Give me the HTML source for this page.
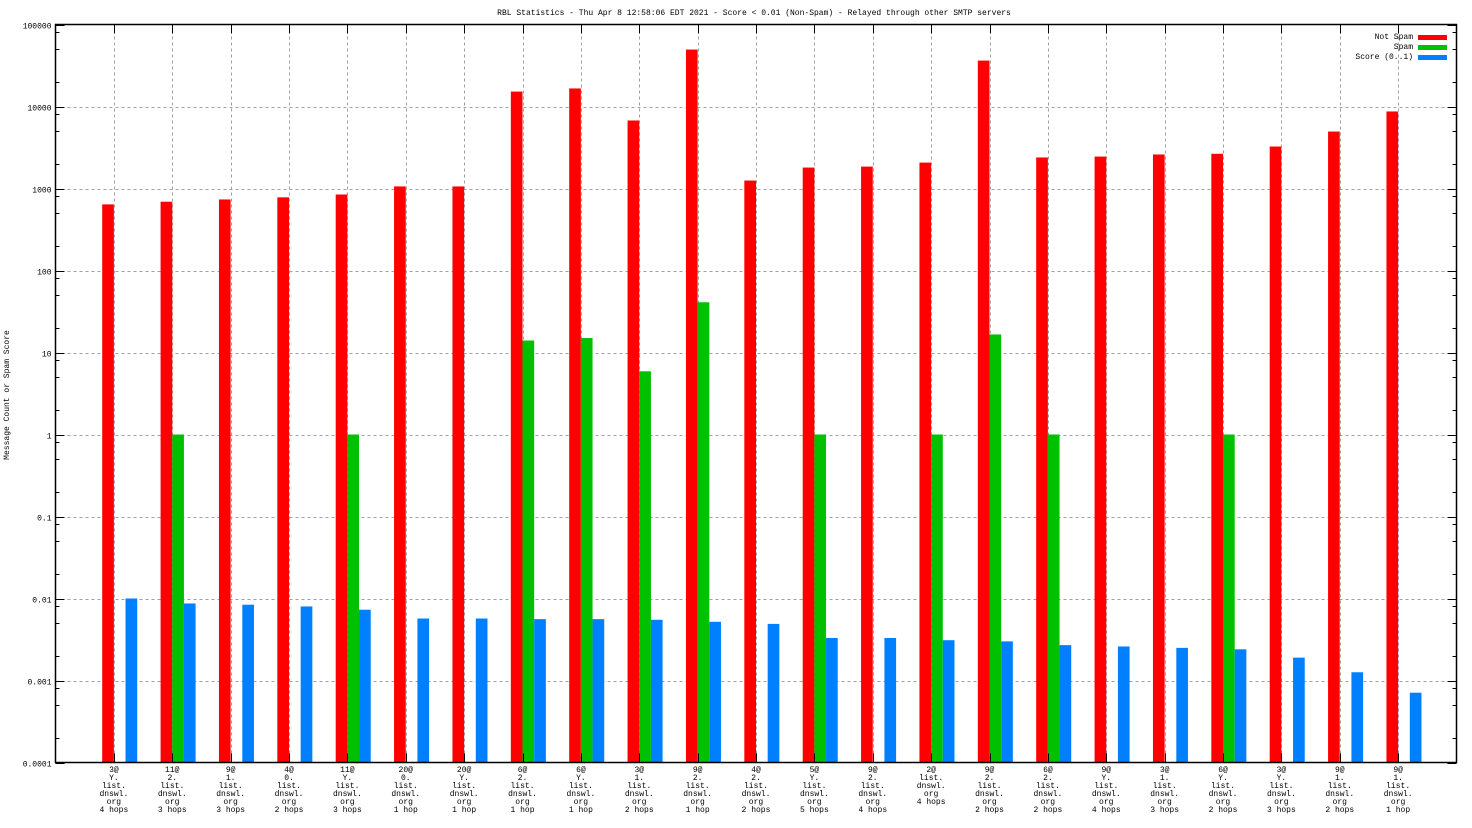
<!DOCTYPE html>
<html><head><meta charset="utf-8"><style>
html,body{margin:0;padding:0;background:#fff}
svg{display:block}
text{font-family:"Liberation Mono","DejaVu Sans Mono",monospace;font-size:8px;fill:#000}
</style></head><body>
<svg id="chart" width="1472" height="828" xmlns="http://www.w3.org/2000/svg">
<text x="754" y="15" text-anchor="middle">RBL Statistics - Thu Apr  8 12:58:06 EDT 2021 - Score &lt; 0.01 (Non-Spam) - Relayed through other SMTP servers</text>
<text transform="translate(9,395) rotate(-90)" text-anchor="middle">Message Count or Spam Score</text>
<g id="grid"></g><g id="bars"></g><g id="axes"></g><g id="labels"></g>
<g>
<text x="1413" y="39" text-anchor="end">Not Spam</text><rect x="1418" y="35" width="29" height="5" fill="#ff0000"/>
<text x="1413" y="49" text-anchor="end">Spam</text><rect x="1418" y="45" width="29" height="5" fill="#00c000"/>
<text x="1413" y="59" text-anchor="end">Score (0..1)</text><rect x="1418" y="55" width="29" height="5" fill="#0080ff"/>
</g>
</svg>
<script>
const categories=[["3@","Y.","list.","dnswl.","org","4 hops"],["11@","2.","list.","dnswl.","org","3 hops"],["9@","1.","list.","dnswl.","org","3 hops"],["4@","0.","list.","dnswl.","org","2 hops"],["11@","Y.","list.","dnswl.","org","3 hops"],["20@","0.","list.","dnswl.","org","1 hop"],["20@","Y.","list.","dnswl.","org","1 hop"],["6@","2.","list.","dnswl.","org","1 hop"],["6@","Y.","list.","dnswl.","org","1 hop"],["3@","1.","list.","dnswl.","org","2 hops"],["9@","2.","list.","dnswl.","org","1 hop"],["4@","2.","list.","dnswl.","org","2 hops"],["5@","Y.","list.","dnswl.","org","5 hops"],["9@","2.","list.","dnswl.","org","4 hops"],["2@","list.","dnswl.","org","4 hops"],["9@","2.","list.","dnswl.","org","2 hops"],["6@","2.","list.","dnswl.","org","2 hops"],["9@","Y.","list.","dnswl.","org","4 hops"],["3@","1.","list.","dnswl.","org","3 hops"],["6@","Y.","list.","dnswl.","org","2 hops"],["3@","Y.","list.","dnswl.","org","3 hops"],["9@","1.","list.","dnswl.","org","2 hops"],["9@","1.","list.","dnswl.","org","1 hop"]];
const notSpam=[640,690,735,780,845,1060,1060,15200,16600,6750,49500,1250,1800,1850,2070,36300,2390,2450,2600,2650,3250,4950,8700];
const spam=[0,1,0,0,1,0,0,14,15,5.9,41,0,1,0,1,16.6,1,0,0,1,0,0,0];
const score=[0.01,0.0087,0.0084,0.008,0.0073,0.0057,0.0057,0.0056,0.0056,0.0055,0.0052,0.0049,0.0033,0.0033,0.0031,0.003,0.0027,0.0026,0.0025,0.0024,0.0019,0.00126,0.00071];
const yTicks=["0.0001","0.001","0.01","0.1","1","10","100","1000","10000","100000"];
const NS="http://www.w3.org/2000/svg";
const L=55.5,R=1456.5,T=24.5,B=762.5;
const step=(R-L)/24;
function xPos(i){return L+step*(i+1);}
function yPos(v){return T+(5-Math.log10(v))*(B-T)/9;}
function mk(tag,attrs,parent){const e=document.createElementNS(NS,tag);for(const k in attrs)e.setAttribute(k,attrs[k]);parent.appendChild(e);return e;}
const grid=document.getElementById('grid'),bars=document.getElementById('bars'),axes=document.getElementById('axes'),labels=document.getElementById('labels');
// y grid & ticks
yTicks.forEach((t,k)=>{
  const v=parseFloat(t),y=Math.round(yPos(v))+0.5;
  if(k>0&&k<yTicks.length-1){const g=mk('line',{x1:L,x2:R,y1:y,y2:y,stroke:'#a0a0a0','stroke-dasharray':'3,3'},grid);
  
  }
  mk('line',{x1:L,x2:L+9,y1:y,y2:y,stroke:'#000'},axes);
  mk('line',{x1:R,x2:R-9,y1:y,y2:y,stroke:'#000'},axes);
  const tx=mk('text',{x:L-4,y:y+3,'text-anchor':'end'},labels);tx.textContent=t;
  
  
  if(k<yTicks.length-1){[2,5,8].forEach(m=>{const yy=Math.round(yPos(v*m))+0.5;
    mk('line',{x1:L,x2:L+4,y1:yy,y2:yy,stroke:'#000'},axes);
    mk('line',{x1:R,x2:R-4,y1:yy,y2:yy,stroke:'#000'},axes);});}
});
const w=step/5;
categories.forEach((c,i)=>{
  const cx=Math.round(xPos(i))+0.5;
  const g=mk('line',{x1:cx,x2:cx,y1:T,y2:B,stroke:'#a0a0a0','stroke-dasharray':'3,3'},grid);
  
  
  mk('line',{x1:cx,x2:cx,y1:T,y2:T+9,stroke:'#000'},axes);
  mk('line',{x1:cx,x2:cx,y1:B,y2:B-9,stroke:'#000'},axes);
  const c0=xPos(i);
  const series=[[notSpam[i],'#ff0000',c0-w,'bar-not-spam'],[spam[i],'#00c000',c0,'bar-spam'],[score[i],'#0080ff',c0+w,'bar-score']];
  series.forEach(s=>{if(s[0]>0){const y=yPos(s[0]);
    const r=mk('rect',{x:s[2],y:y,width:w,height:B-y,fill:s[1]},bars);
    
    }});
  const t=mk('text',{'text-anchor':'middle'},labels);
  
  
  c.forEach((line,j)=>{const ts=mk('tspan',{x:c0,y:772+j*8},t);ts.textContent=line;});
});
mk('rect',{x:L,y:T,width:R-L,height:B-T,fill:'none',stroke:'#000','stroke-width':1.5},axes);
</script>
</body></html>
